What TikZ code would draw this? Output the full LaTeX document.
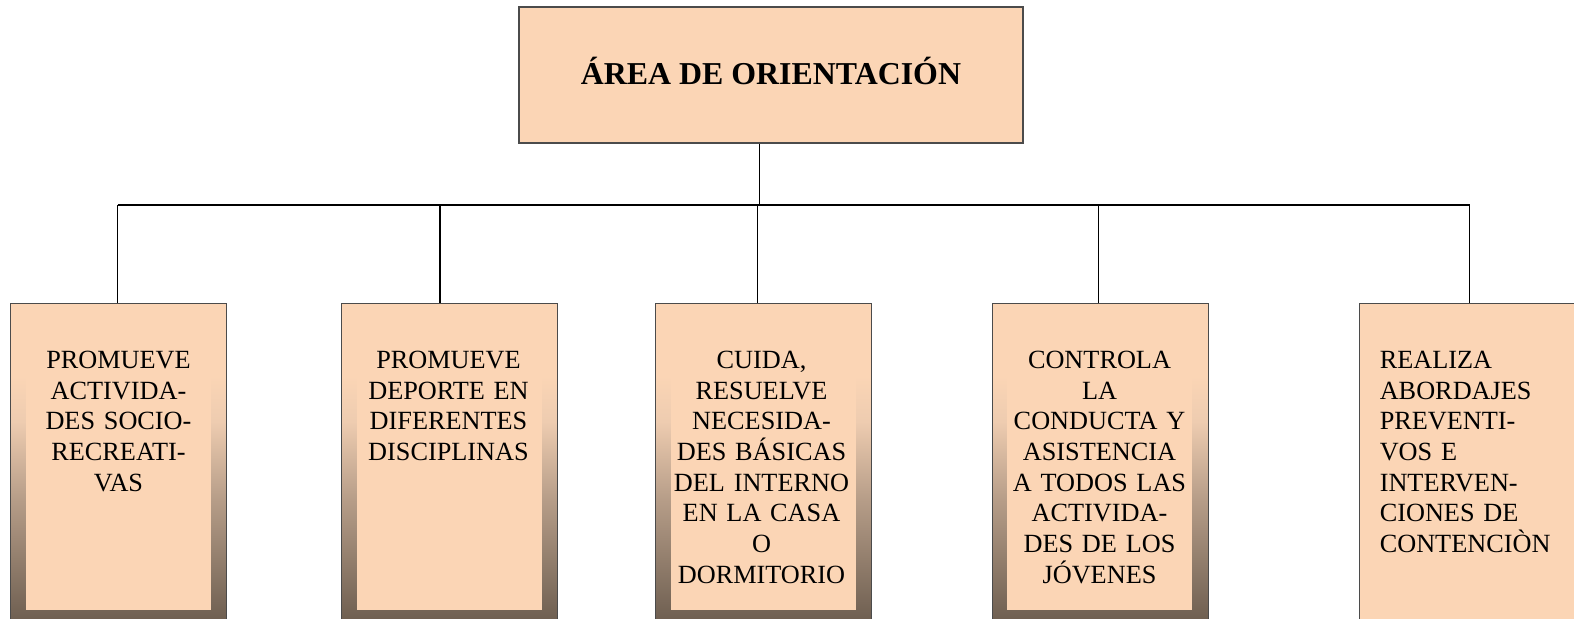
\documentclass[tikz,border=0pt]{standalone}
\usepackage{fontspec}
\setmainfont{Liberation Serif}
\definecolor{peach}{RGB}{251,213,181}
\definecolor{frbrown}{RGB}{108,93,79}
\definecolor{frmid}{RGB}{182,157,136}
\definecolor{frlight}{RGB}{238,204,176}
\definecolor{bordergray}{RGB}{75,75,75}
\pgfdeclareverticalshading{framesh}{100bp}{color(0bp)=(frbrown); color(26bp)=(frbrown); color(45bp)=(frmid); color(57bp)=(frlight); color(64bp)=(peach); color(100bp)=(peach)}
\tikzset{
  topbox/.style={draw=bordergray, line width=0.9pt, fill=peach, minimum width=378pt, minimum height=102pt, inner sep=0pt},
  childbox/.style={draw=bordergray, line width=0.9pt, shading=framesh, minimum width=162pt, minimum height=245.25pt, inner sep=0pt, anchor=north west},
  plainbox/.style={draw=bordergray, line width=0.9pt, fill=peach, minimum width=162pt, minimum height=245.25pt, inner sep=0pt, anchor=north west},
  innerfill/.style={fill=peach},
  lbl/.style={font=\fontsize{19.7pt}{23pt}\selectfont, align=center, text width=142pt, inner sep=0pt, anchor=base},
  lblleft/.style={font=\fontsize{19.7pt}{23pt}\selectfont, align=left, text width=140pt, inner sep=0pt, anchor=base west},
  titlelbl/.style={font=\fontsize{23.9pt}{27pt}\selectfont\bfseries, inner sep=0pt, anchor=base},
  conn/.style={draw=black, line width=0.9pt}
}
\begin{document}
\begin{tikzpicture}[x=0.75pt,y=-0.75pt]
\clip (0,0) rectangle (1574,618);
\fill[white] (0,0) rectangle (1574,618);
% top box
\node[topbox] (top) at (771,75) {};
\node[titlelbl] (title) at (771,84) {ÁREA DE ORIENTACIÓN};
% child boxes
\node[childbox] (b1) at (10,303) {};
\node[childbox] (b2) at (341,303) {};
\node[childbox] (b3) at (655,303) {};
\node[childbox] (b4) at (992,303) {};
\node[plainbox] (b5) at (1359,303) {};
% inner panels
\fill[innerfill] (26,313) rectangle (211,610);
\fill[innerfill] (357,313) rectangle (542,610);
\fill[innerfill] (671,343) rectangle (856,610);
\fill[innerfill] (1007,313) rectangle (1192,610);
% texts
\node[lbl] (t1) at (118.5,368.5) {PROMUEVE\\ACTIVIDA-\\DES SOCIO-\\RECREATI-\\VAS};
\node[lbl] (t2) at (448.5,368.5) {PROMUEVE\\DEPORTE EN\\DIFERENTES\\DISCIPLINAS};
\node[lbl] (t3) at (761.5,368.5) {CUIDA,\\RESUELVE\\NECESIDA-\\DES BÁSICAS\\DEL INTERNO\\EN LA CASA\\O\\DORMITORIO};
\node[lbl] (t4) at (1099.5,368.5) {CONTROLA\\LA\\CONDUCTA Y\\ASISTENCIA\\A TODOS LAS\\ACTIVIDA-\\DES DE LOS\\JÓVENES};
\node[lblleft] (t5) at (1379.5,368.5) {REALIZA\\ABORDAJES\\PREVENTI-\\VOS E\\INTERVEN-\\CIONES DE\\CONTENCIÒN};
% connectors
\coordinate (bus) at (759.3,205);
\coordinate (d1) at (117.5,205);
\coordinate (d2) at (440,205);
\coordinate (d3) at (757.5,205);
\coordinate (d4) at (1098.3,205);
\coordinate (d5) at (1469.5,205);
\draw[conn] (top.south -| bus) -- (bus);
\draw[conn] (d1) -- (d5);
\draw[conn] (d1) -- (d1 |- b1.north);
\draw[conn] (d2) -- (d2 |- b2.north);
\draw[conn] (d3) -- (d3 |- b3.north);
\draw[conn] (d4) -- (d4 |- b4.north);
\draw[conn] (d5) -- (d5 |- b5.north);
\end{tikzpicture}
\end{document}
